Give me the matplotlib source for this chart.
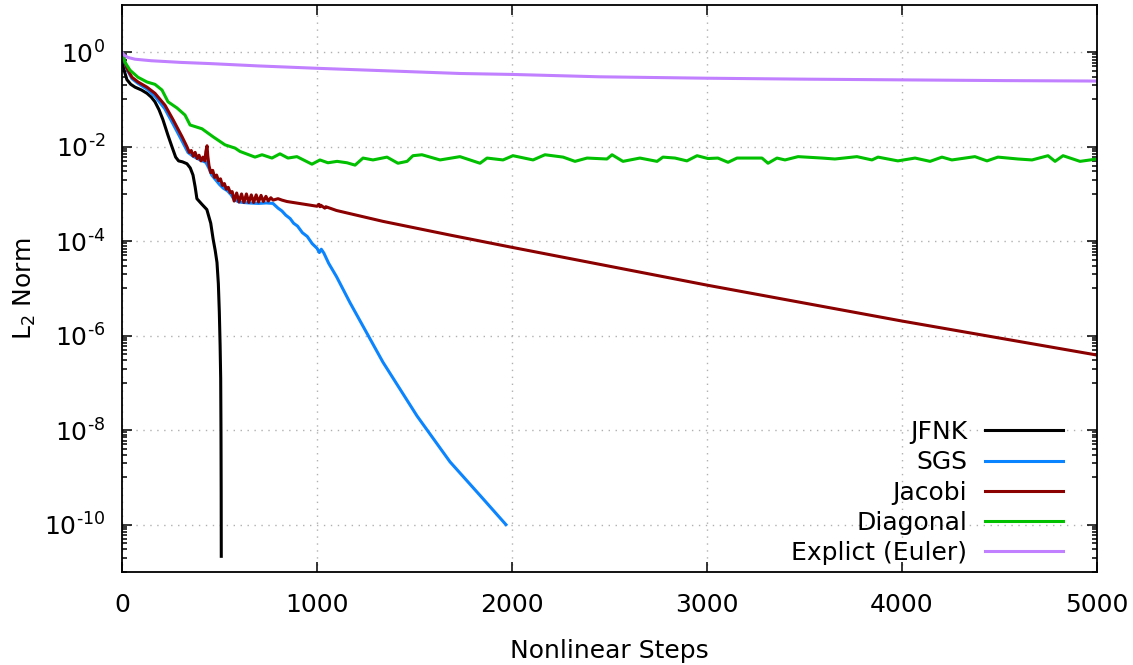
import numpy as np
import matplotlib.pyplot as plt
from matplotlib.ticker import FixedLocator, FuncFormatter, NullFormatter

# residual history (steps, log10 of L2 norm)
jfnk_steps = [0, 5, 12, 25, 45, 67, 100, 128, 150, 169,
              190, 210, 235, 256, 275, 290, 310, 333, 350, 364,
              375, 384, 410, 435, 455, 467, 478, 487, 494, 499,
              503, 506, 507.5, 508.5, 509]
jfnk_log = [-0.05, -0.25, -0.40, -0.58, -0.68, -0.74, -0.80, -0.87, -0.95, -1.05,
            -1.22, -1.43, -1.75, -2.00, -2.22, -2.30, -2.32, -2.36, -2.45, -2.60,
            -2.85, -3.10, -3.22, -3.33, -3.62, -3.95, -4.20, -4.45, -4.90, -5.50,
            -6.20, -6.90, -8.00, -9.30, -10.67]

sgs_steps = [0, 25, 51, 82, 128, 169, 220, 262, 308, 338,
             364, 400, 430, 445, 460, 480, 500, 520, 540, 560,
             575, 600, 620, 650, 700, 740, 774, 800, 820, 840,
             862, 880, 900, 925, 950, 975, 1000, 1012, 1022, 1035,
             1060, 1100, 1169, 1338, 1513, 1682, 1851, 1969]
sgs_log = [-0.02, -0.36, -0.56, -0.66, -0.78, -0.93, -1.20, -1.52, -1.88, -2.12,
           -2.20, -2.28, -2.33, -2.45, -2.60, -2.70, -2.80, -2.88, -2.93, -3.02,
           -3.12, -3.17, -3.18, -3.19, -3.20, -3.19, -3.20, -3.30, -3.36, -3.45,
           -3.52, -3.62, -3.68, -3.82, -3.90, -4.05, -4.15, -4.24, -4.17, -4.25,
           -4.47, -4.75, -5.30, -6.56, -7.70, -8.67, -9.45, -10.0]

jacobi_steps = [0, 25, 51, 82, 128, 169, 220, 262, 308, 333,
                345, 355, 365, 375, 385, 395, 405, 415, 425, 430,
                436, 440, 446, 455, 465, 475, 485, 495, 505, 515,
                525, 535, 545, 555, 565, 575, 588, 600, 613, 625,
                638, 650, 663, 675, 688, 700, 713, 725, 738, 750,
                763, 775, 800, 820, 846, 1000, 1010, 1015, 1020, 1040,
                1045, 1100, 1338, 1682, 2000, 2500, 3000, 3500, 4000, 4500,
                5000]
jacobi_log = [-0.02, -0.34, -0.53, -0.63, -0.74, -0.87, -1.12, -1.43, -1.79, -2.00,
              -2.12, -2.08, -2.20, -2.12, -2.25, -2.18, -2.30, -2.22, -2.30, -2.10,
              -1.98, -2.20, -2.40, -2.55, -2.50, -2.65, -2.60, -2.72, -2.68, -2.82,
              -2.78, -2.90, -2.86, -2.97, -2.95, -3.15, -2.98, -3.17, -3.00, -3.18,
              -3.00, -3.18, -3.02, -3.18, -3.02, -3.17, -3.03, -3.16, -3.05, -3.15,
              -3.08, -3.13, -3.10, -3.13, -3.16, -3.26, -3.22, -3.27, -3.24, -3.30,
              -3.27, -3.35, -3.58, -3.87, -4.13, -4.53, -4.93, -5.31, -5.69, -6.05,
              -6.41]

diag_steps = [0, 15, 41, 82, 128, 169, 205, 236, 282, 323,
              349, 410, 467, 528, 580, 605, 682, 718, 769, 810,
              851, 897, 974, 1015, 1056, 1103, 1154, 1195, 1236, 1287,
              1359, 1415, 1462, 1492, 1538, 1631, 1733, 1836, 1872, 1954,
              2005, 2108, 2169, 2262, 2323, 2385, 2487, 2513, 2569, 2656,
              2744, 2774, 2836, 2897, 2949, 3005, 3056, 3108, 3154, 3282,
              3313, 3359, 3400, 3467, 3590, 3656, 3769, 3846, 3877, 3979,
              4067, 4144, 4205, 4256, 4374, 4436, 4492, 4595, 4667, 4749,
              4785, 4826, 4913, 5000]
diag_log = [-0.02, -0.21, -0.38, -0.53, -0.63, -0.68, -0.80, -1.05, -1.18, -1.33,
            -1.54, -1.62, -1.79, -1.96, -2.03, -2.10, -2.22, -2.17, -2.24, -2.15,
            -2.24, -2.21, -2.37, -2.28, -2.34, -2.31, -2.34, -2.39, -2.24, -2.28,
            -2.22, -2.35, -2.31, -2.19, -2.17, -2.28, -2.21, -2.35, -2.24, -2.28,
            -2.19, -2.28, -2.17, -2.22, -2.31, -2.24, -2.26, -2.17, -2.31, -2.24,
            -2.31, -2.22, -2.24, -2.30, -2.19, -2.25, -2.24, -2.33, -2.24, -2.24,
            -2.35, -2.24, -2.28, -2.21, -2.24, -2.26, -2.21, -2.28, -2.22, -2.30,
            -2.24, -2.31, -2.22, -2.28, -2.21, -2.30, -2.22, -2.26, -2.28, -2.19,
            -2.31, -2.19, -2.31, -2.26]

euler_steps = [0, 10, 30, 67, 150, 300, 450, 700, 1000, 1400,
               1733, 2000, 2450, 3000, 3500, 4000, 4500, 5000]
euler_log = [0.0, -0.06, -0.11, -0.148, -0.18, -0.215, -0.24, -0.29, -0.34, -0.40,
             -0.45, -0.47, -0.52, -0.55, -0.57, -0.585, -0.60, -0.61]

labels = ['JFNK', 'SGS', 'Jacobi', 'Diagonal', 'Explict (Euler)']
colors = ['#000000', '#0a84ff', '#8b0000', '#00c000', '#c080ff']

plt.rcParams['font.family'] = 'DejaVu Sans'
plt.rcParams['mathtext.fontset'] = 'dejavusans'
plt.rcParams['font.size'] = 18

fig = plt.figure(figsize=(11.33, 6.65), dpi=100)
ax = fig.add_axes([0.1077, 0.140, 0.8605, 0.8525])

series = [(jfnk_steps, jfnk_log), (sgs_steps, sgs_log), (jacobi_steps, jacobi_log),
          (diag_steps, diag_log), (euler_steps, euler_log)]
for (xs, ls), lab, col in zip(series, labels, colors):
    ax.plot(xs, 10.0 ** np.array(ls), color=col, lw=2.2, label=lab,
            solid_joinstyle='round')

ax.set_yscale('log')
ax.set_xlim(0, 5000)
ax.set_ylim(1e-11, 10)


def exp_label(v, pos):
    e = int(round(np.log10(v)))
    if e < 0:
        return r'$10^{\text{-}%d}$' % (-e)
    return r'$10^{%d}$' % e


# major ticks every two decades, minor ticks on the odd decades (gnuplot style)
major = [10.0 ** e for e in range(-10, 1, 2)]
minor = [m * 10.0 ** e for e in range(-11, 1, 2) for m in range(1, 10)]
ax.yaxis.set_major_locator(FixedLocator(major))
ax.yaxis.set_minor_locator(FixedLocator(minor))
ax.yaxis.set_major_formatter(FuncFormatter(exp_label))
ax.yaxis.set_minor_formatter(NullFormatter())
ax.xaxis.set_major_locator(FixedLocator([0, 1000, 2000, 3000, 4000, 5000]))

ax.tick_params(which='both', direction='in', top=True, right=True, width=1.1)
ax.tick_params(which='major', length=7)
ax.tick_params(which='minor', length=3.5)
ax.tick_params(axis='x', pad=15)
ax.tick_params(axis='y', pad=12)
for s in ax.spines.values():
    s.set_linewidth(1.3)

ax.grid(True, which='major', color='#b0b0b0', linestyle=(0, (1, 4)), linewidth=1)

ax.set_xlabel('Nonlinear Steps', labelpad=16)
ax.set_ylabel('L$_2$ Norm', labelpad=4)

ax.legend(loc='lower right', bbox_to_anchor=(0.965, 0.012), frameon=False,
          markerfirst=False, handlelength=3.1, handletextpad=0.72,
          labelspacing=0.25, borderpad=0, borderaxespad=0)

fig.savefig('out.png', dpi=100)
